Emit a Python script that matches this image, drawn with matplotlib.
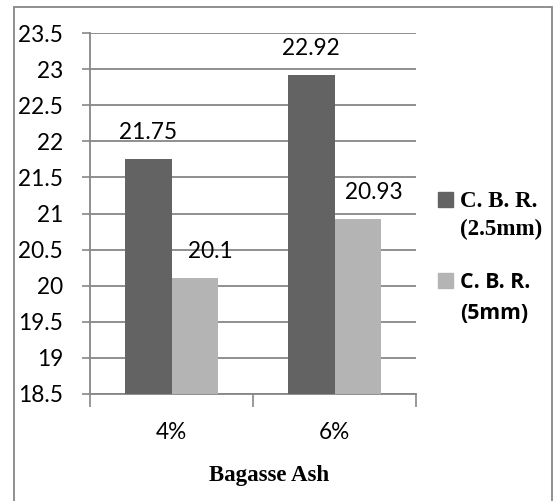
import matplotlib.pyplot as plt
from matplotlib.patches import Rectangle
from matplotlib.ticker import FixedLocator, NullFormatter

# C.B.R. values for each bagasse ash content
categories = ["4%", "6%"]
cbr_25mm = [21.75, 22.92]
cbr_5mm = [20.1, 20.93]
y_ticks = [18.5, 19, 19.5, 20, 20.5, 21, 21.5, 22, 22.5, 23, 23.5]

dark = "#636363"
light = "#b4b4b4"
grey = "#878787"
num_font = dict(family="Lato", fontsize=16.3)

W, H = 554, 501
fig = plt.figure(figsize=(W / 100, H / 100), dpi=100)


def fx(px):
    return px / W


def fy(py):
    return 1 - py / H


ax = fig.add_axes([fx(90), fy(394), fx(416) - fx(90), fy(33) - fy(394)])

x = list(range(len(categories)))
bw = 0.284
bars1 = ax.bar([i - bw / 2 for i in x], cbr_25mm, bw, color=dark, zorder=3)
bars2 = ax.bar([i + bw / 2 for i in x], cbr_5mm, bw, color=light, zorder=3)

ax.set_xlim(-0.5, len(categories) - 0.5)
ax.set_ylim(y_ticks[0], y_ticks[-1])
ax.set_yticks(y_ticks)
ax.set_yticklabels([f"{t:g}" for t in y_ticks])

# ticks sit on the category boundaries, labels in the middle
ax.xaxis.set_major_locator(FixedLocator([-0.5, 0.5, 1.5]))
ax.xaxis.set_major_formatter(NullFormatter())
ax.xaxis.set_minor_locator(FixedLocator(x))
ax.set_xticklabels(categories, minor=True)

ax.tick_params(axis="x", which="major", length=9, width=1.2, color=grey)
ax.tick_params(axis="x", which="minor", length=0, pad=20)
ax.tick_params(axis="y", length=6, width=1.2, color=grey, pad=13.5)
for lab in ax.get_xticklabels(minor=True) + ax.get_yticklabels():
    lab.set_family(num_font["family"])
    lab.set_fontsize(num_font["fontsize"])

ax.grid(axis="y", color=grey, linewidth=1.3, zorder=0)
for s in ["top", "right"]:
    ax.spines[s].set_visible(False)
for s in ["left", "bottom"]:
    ax.spines[s].set_color(grey)
    ax.spines[s].set_linewidth(1.3)

for b, v in zip(bars1, cbr_25mm):
    ax.annotate(f"{v:g}", (b.get_x() + b.get_width() / 2, v),
                xytext=(0, 14.4), textcoords="offset points",
                ha="center", va="baseline", **num_font)
for b, v in zip(bars2, cbr_5mm):
    ax.annotate(f"{v:g}", (b.get_x() + b.get_width() / 2, v),
                xytext=(11.5, 14.4), textcoords="offset points",
                ha="center", va="baseline", **num_font)

fig.text(fx(269), fy(481), "Bagasse Ash", ha="center", va="baseline",
         family="Liberation Serif", fontweight="bold", fontsize=16.5)

# legend drawn by hand: the two entries use different typefaces
entries = [
    (dark, "C. B. R.", "(2.5mm)", "Liberation Serif", 16.6, 192, 207, 235),
    (light, "C. B. R.", "(5mm)", "Open Sans", 15.3, 273, 288, 319),
]
for color, l1, l2, fam, size, sq_top, base1, base2 in entries:
    fig.patches.append(Rectangle((fx(438), fy(sq_top + 15)), fx(15), fy(sq_top) - fy(sq_top + 15),
                                 transform=fig.transFigure, color=color))
    fig.text(fx(460), fy(base1), l1, va="baseline", family=fam,
             fontweight="bold", fontsize=size)
    fig.text(fx(460), fy(base2), l2, va="baseline", family=fam,
             fontweight="bold", fontsize=size)

# outer chart frame
fig.patches.append(Rectangle((fx(14), fy(505)), fx(552) - fx(14), fy(7) - fy(505),
                             transform=fig.transFigure, fill=False,
                             edgecolor=grey, linewidth=1.3))

fig.savefig("out.png", dpi=100)
